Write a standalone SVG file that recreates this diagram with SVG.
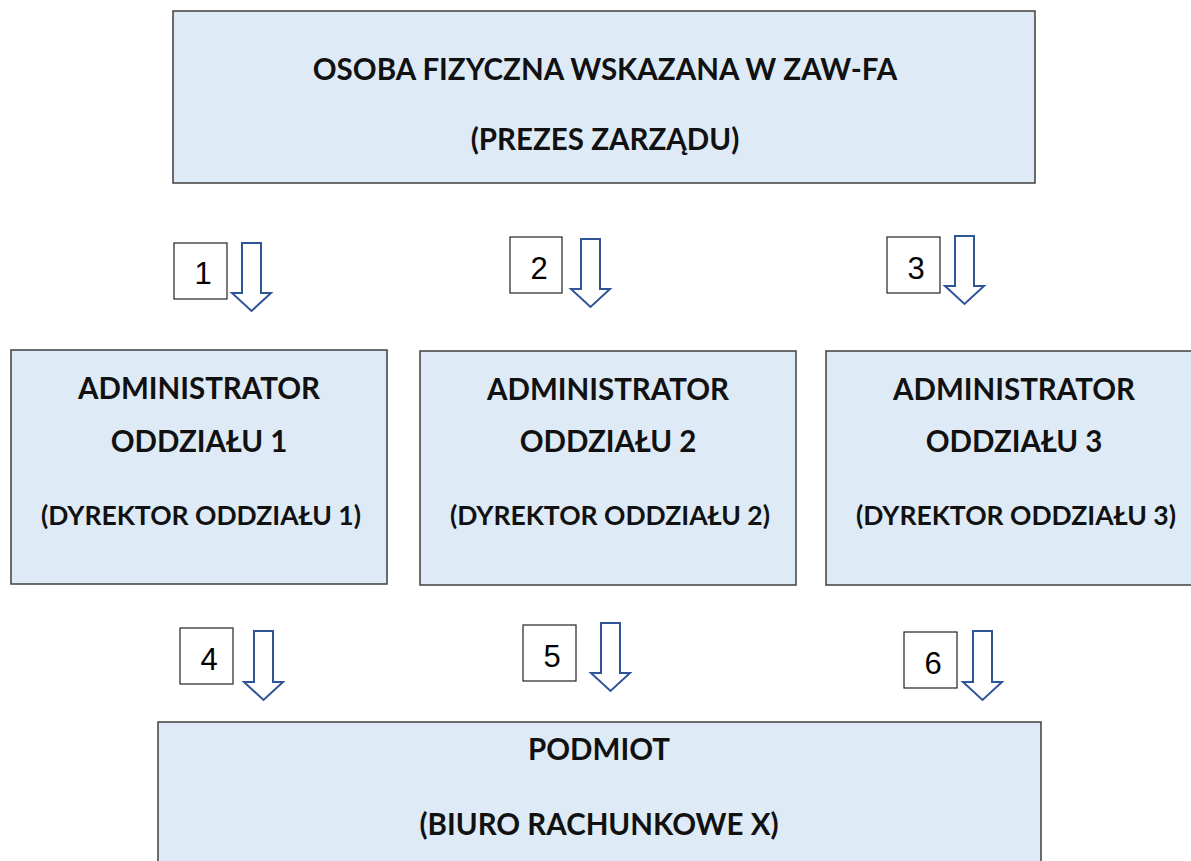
<svg xmlns="http://www.w3.org/2000/svg" width="1191" height="861" viewBox="0 0 1191 861">
<defs>
<style>
.node{fill:#deebf7;stroke:#3f3f3f;stroke-width:1.5}
.lbl{fill:#ffffff;stroke:#222222;stroke-width:1.2}
.arr{fill:#ffffff;stroke:#2f5597;stroke-width:2;stroke-linejoin:miter}
.t{font-family:Lato,"Open Sans",sans-serif;font-weight:bold;fill:#111111;text-anchor:middle}
.big{font-size:29.5px}
.sm{font-size:26.5px}
.num{font-family:"Liberation Sans",Arial,sans-serif;font-size:31px;fill:#000000;text-anchor:middle}
</style>
</defs>
<rect width="1191" height="861" fill="#ffffff"/>
<g id="top">
<rect class="node" x="173" y="11" width="862" height="172"/>
<text class="t big" x="605" y="80">OSOBA FIZYCZNA WSKAZANA W ZAW-FA</text>
<text class="t big" x="605" y="150">(PREZES ZARZĄDU)</text>
</g>
<g id="admin1">
<rect class="node" x="11" y="350" width="376" height="234"/>
<text class="t big" x="199" y="399">ADMINISTRATOR</text>
<text class="t big" x="199" y="452">ODDZIAŁU 1</text>
<text class="t sm" x="201" y="525">(DYREKTOR ODDZIAŁU 1)</text>
</g>
<g id="admin2">
<rect class="node" x="420" y="351" width="376" height="234"/>
<text class="t big" x="608" y="400">ADMINISTRATOR</text>
<text class="t big" x="608" y="452">ODDZIAŁU 2</text>
<text class="t sm" x="610" y="525">(DYREKTOR ODDZIAŁU 2)</text>
</g>
<g id="admin3">
<rect class="node" x="826" y="351" width="378" height="234"/>
<text class="t big" x="1014" y="400">ADMINISTRATOR</text>
<text class="t big" x="1014" y="452">ODDZIAŁU 3</text>
<text class="t sm" x="1016" y="525">(DYREKTOR ODDZIAŁU 3)</text>
</g>
<g id="podmiot">
<rect class="node" x="158" y="722" width="883" height="150"/>
<text class="t big" x="599" y="760">PODMIOT</text>
<text class="t big" x="599" y="835">(BIURO RACHUNKOWE X)</text>
</g>
<g id="connectors">
<g id="c1">
<rect class="lbl" x="174" y="243" width="53" height="56"/>
<text class="num" x="203" y="284">1</text>
<path class="arr" d="M242,243 H261 V293 H271 L251.5,311 L232,293 H242 Z"/>
</g>
<g id="c2">
<rect class="lbl" x="510" y="237" width="52" height="56"/>
<text class="num" x="539" y="279">2</text>
<path class="arr" d="M581,239 H600 V289 H610 L590.5,307 L571,289 H581 Z"/>
</g>
<g id="c3">
<rect class="lbl" x="887" y="237" width="53" height="56"/>
<text class="num" x="916" y="279">3</text>
<path class="arr" d="M955,236 H974 V286 H984 L964.5,304 L945,286 H955 Z"/>
</g>
<g id="c4">
<rect class="lbl" x="180" y="628" width="53" height="56"/>
<text class="num" x="209" y="670">4</text>
<path class="arr" d="M254,631 H273 V682 H283 L263.5,700 L244,682 H254 Z"/>
</g>
<g id="c5">
<rect class="lbl" x="523" y="625" width="53" height="56"/>
<text class="num" x="552" y="667">5</text>
<path class="arr" d="M601,623 H620 V673 H630 L610.5,691 L591,673 H601 Z"/>
</g>
<g id="c6">
<rect class="lbl" x="904" y="632" width="53" height="56"/>
<text class="num" x="933" y="674">6</text>
<path class="arr" d="M973,631 H992 V682 H1002 L982.5,700 L963,682 H973 Z"/>
</g>
</g>
</svg>
